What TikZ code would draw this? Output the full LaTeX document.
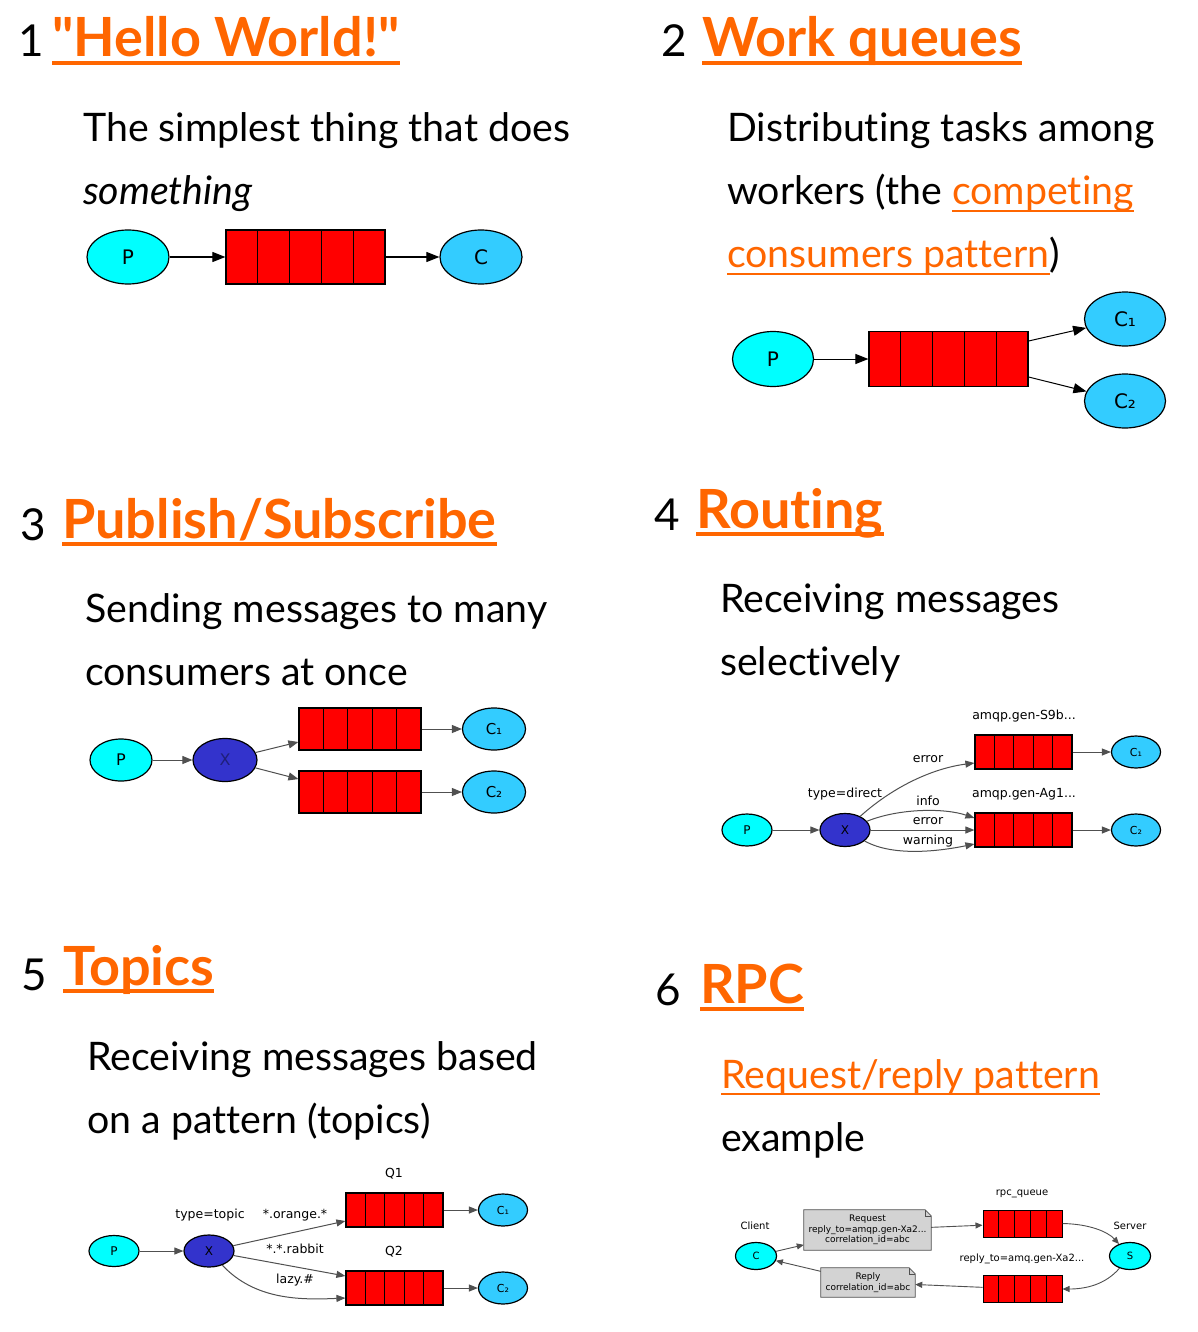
\documentclass[tikz,border=0pt]{standalone}
\usepackage{fontspec}
\setmainfont{Lato}[Ligatures={TeXOff,CommonOff}]
\newfontfamily\gv{DejaVu Sans}
\usetikzlibrary{shapes.geometric,arrows.meta,calc,backgrounds}

\definecolor{linkor}{RGB}{255,102,0}
\definecolor{pcyan}{RGB}{0,255,255}
\definecolor{cblue}{RGB}{51,204,255}
\definecolor{xblue}{RGB}{51,51,204}
\definecolor{qred}{RGB}{255,0,0}
\definecolor{edgegray}{RGB}{80,80,80}
\definecolor{notegray}{RGB}{211,211,211}

\tikzset{
  txt/.style={inner sep=0, anchor=base west, font=\fontsize{39.3}{42}\selectfont},
  linktxt/.style={txt, text=linkor},
  head/.style={inner sep=0, anchor=base west, text=linkor, font=\fontsize{54}{60}\selectfont\bfseries},
  num/.style={inner sep=0, anchor=base west, font=\fontsize{44}{50}\selectfont},
  headline/.style={draw=linkor, line width=4pt},
  linkline/.style={draw=linkor, line width=2.5pt},
  ell/.style={ellipse, draw, line width=1.2pt, inner sep=0},
  prod/.style={ell, fill=pcyan},
  cons/.style={ell, fill=cblue},
  exch/.style={ell, fill=xblue},
  queue/.style={draw, fill=qred, line width=1.2pt, inner sep=0,
    path picture={\foreach \k in {1,2,3,4}{
      \draw[line width=1.2pt]
        ($(path picture bounding box.north west)!\k/5!(path picture bounding box.north east)$) --
        ($(path picture bounding box.south west)!\k/5!(path picture bounding box.south east)$);}}},
  lbl/.style={inner sep=0, font=\gv\fontsize{12.5}{14}\selectfont},
  big/.style={-{Triangle[length=13pt,width=10pt]}, line width=1pt},
  mid/.style={-{Triangle[length=10pt,width=8pt]}, line width=1pt, draw=edgegray},
  small/.style={-{Triangle[length=9pt,width=7pt]}, line width=1pt, draw=edgegray},
  tiny/.style={-{Triangle[length=7pt,width=6pt]}, line width=0.9pt, draw=edgegray},
  notebox/.style={inner sep=2pt, align=center, font=\gv\fontsize{9}{10.5}\selectfont},
}

\begin{document}
\begin{tikzpicture}[x=1pt,y=-1pt]
\useasboundingbox (0,0) rectangle (1198,1332);
\begin{scope}[on background layer]
  \fill[white] (0,0) rectangle (1198,1332);
\end{scope}

% ---------- 1 "Hello World!" ----------
\node[num] (n1) at (18,57) {1};
\node[head] (h1) at (52,57) {"Hello World!"};
\draw[headline] ($(h1.base west)+(0,6)$) -- ($(h1.base east)+(0,6)$);
\node[txt] (t11) at (83,142) {The simplest thing that does};
\node[txt] (t12) at (83,205) {\itshape something};
\node[prod, minimum width=82, minimum height=54, font=\gv\fontsize{20}{20}\selectfont] (p1) at (128,257) {P};
\node[queue, minimum width=159, minimum height=54] (q1) at (305.5,257) {};
\node[cons, minimum width=82, minimum height=54, font=\gv\fontsize{20}{20}\selectfont] (c1) at (481,257) {C};
\draw[big] (p1) -- (q1);
\draw[big] (q1) -- (c1);

% ---------- 2 Work queues ----------
\node[num] (n2) at (661,57) {2};
\node[head] (h2) at (702,57) {Work queues};
\draw[headline] ($(h2.base west)+(0,6)$) -- ($(h2.base east)+(0,6)$);
\node[txt] (t21) at (727,142) {Distributing tasks among};
\node[txt] (t22) at (727,205) {workers (the};
\node[linktxt] (t22b) at ($(t22.base east)+(10,0)$) {competing};
\draw[linkline] ($(t22b.base west)+(0,6)$) -- ($(t22b.base east)+(0,6)$);
\node[linktxt] (t23) at (727,268) {consumers pattern};
\draw[linkline] ($(t23.base west)+(0,6)$) -- ($(t23.base east)+(0,6)$);
\node[txt] (t23b) at (t23.base east) {)};
\node[prod, minimum width=81, minimum height=55, font=\gv\fontsize{20}{20}\selectfont] (p2) at (773,359) {P};
\node[queue, minimum width=159, minimum height=55] (q2) at (948.5,359) {};
\node[cons, minimum width=81, minimum height=54, font=\gv\fontsize{20}{20}\selectfont] (c21) at (1125,319) {C₁};
\node[cons, minimum width=81, minimum height=54, font=\gv\fontsize{20}{20}\selectfont] (c22) at (1125,401) {C₂};
\draw[big] (p2) -- (q2);
\draw[big] ($(q2.east)+(0,-18)$) -- (c21);
\draw[big] ($(q2.east)+(0,18)$) -- (c22);

% ---------- 3 Publish/Subscribe ----------
\node[num] (n3) at (20,540) {3};
\node[head] (h3) at (62,538) {Publish/Subscribe};
\draw[headline] ($(h3.base west)+(0,6)$) -- ($(h3.base east)+(0,6)$);
\node[txt] (t31) at (85,622) {Sending messages to many};
\node[txt] (t32) at (85,685) {consumers at once};
\node[prod, minimum width=62, minimum height=42, font=\gv\fontsize{16}{16}\selectfont] (p3) at (121,760) {P};
\node[exch, minimum width=64, minimum height=43, font=\gv\fontsize{16}{16}\selectfont, text=xblue!60!black] (x3) at (225,760) {X};
\node[queue, minimum width=122, minimum height=42] (q31) at (360,729) {};
\node[queue, minimum width=122, minimum height=42] (q32) at (360,792) {};
\node[cons, minimum width=63, minimum height=42, font=\gv\fontsize{15}{15}\selectfont] (c31) at (494,729) {C₁};
\node[cons, minimum width=63, minimum height=42, font=\gv\fontsize{15}{15}\selectfont] (c32) at (494,792) {C₂};
\draw[mid] (p3) -- (x3);
\draw[mid] (x3) -- ($(q31.west)+(0,13)$);
\draw[mid] (x3) -- ($(q32.west)+(0,-13)$);
\draw[mid] (q31) -- (c31);
\draw[mid] (q32) -- (c32);

% ---------- 4 Routing ----------
\node[num] (n4) at (654,530) {4};
\node[head] (h4) at (696,528) {Routing};
\draw[headline] ($(h4.base west)+(0,6)$) -- ($(h4.base east)+(0,6)$);
\node[txt] (t41) at (720,612) {Receiving messages};
\node[txt] (t42) at (720,675) {selectively};
\node[prod, minimum width=50, minimum height=32, font=\gv\fontsize{12}{12}\selectfont] (p4) at (747,830) {P};
\node[exch, minimum width=50, minimum height=33, font=\gv\fontsize{12}{12}\selectfont] (x4) at (845,830) {X};
\node[queue, minimum width=97, minimum height=34] (q41) at (1023.5,752) {};
\node[queue, minimum width=97, minimum height=34] (q42) at (1023.5,830) {};
\node[cons, minimum width=49, minimum height=32, font=\gv\fontsize{11}{11}\selectfont] (c41) at (1136,752) {C₁};
\node[cons, minimum width=49, minimum height=32, font=\gv\fontsize{11}{11}\selectfont] (c42) at (1136,830) {C₂};
\node[lbl] (l41) at (1024,716) {amqp.gen-S9b...};
\node[lbl] (l42) at (1024,794) {amqp.gen-Ag1...};
\node[lbl] (l43) at (845,794) {type=direct};
\node[lbl] (l44) at (928,759) {error};
\node[lbl] (l45) at (928,801) {info};
\node[lbl] (l46) at (928,821) {error};
\node[lbl] (l47) at (928,841) {warning};
\draw[small] (p4) -- (x4);
\draw[small] (x4) .. controls (895,785) and (935,768) .. ($(q41.west)+(0,11)$);
\draw[small] (x4) .. controls (900,808) and (945,808) .. ($(q42.west)+(0,-12)$);
\draw[small] (x4) -- (q42);
\draw[small] (x4) .. controls (895,858) and (945,850) .. ($(q42.west)+(0,14)$);
\draw[small] (q41) -- (c41);
\draw[small] (q42) -- (c42);

% ---------- 5 Topics ----------
\node[num] (n5) at (21,990) {5};
\node[head] (h5) at (63,985) {Topics};
\draw[headline] ($(h5.base west)+(0,6)$) -- ($(h5.base east)+(0,6)$);
\node[txt] (t51) at (87,1070) {Receiving messages based};
\node[txt] (t52) at (87,1133) {on a pattern (topics)};
\node[prod, minimum width=50, minimum height=31, font=\gv\fontsize{12}{12}\selectfont] (p5) at (114,1251) {P};
\node[exch, minimum width=50, minimum height=32, font=\gv\fontsize{12}{12}\selectfont] (x5) at (209,1251) {X};
\node[queue, minimum width=97, minimum height=34] (q51) at (394.5,1210) {};
\node[queue, minimum width=97, minimum height=34] (q52) at (394.5,1288) {};
\node[cons, minimum width=49, minimum height=32, font=\gv\fontsize{11}{11}\selectfont] (c51) at (503,1210) {C₁};
\node[cons, minimum width=49, minimum height=32, font=\gv\fontsize{11}{11}\selectfont] (c52) at (503,1288) {C₂};
\node[lbl] (l51) at (394,1174) {Q1};
\node[lbl] (l52) at (394,1252) {Q2};
\node[lbl] (l53) at (210,1215) {type=topic};
\node[lbl] (l54) at (295,1215) {*.orange.*};
\node[lbl] (l55) at (295,1249) {*.*.rabbit};
\node[lbl] (l56) at (295,1280) {lazy.\#};
\draw[small] (p5) -- (x5);
\draw[small] (x5) -- ($(q51.west)+(0,11)$);
\draw[small] (x5) -- ($(q52.west)+(0,-12)$);
\draw[small] (x5) .. controls (255,1300) and (300,1300) .. ($(q52.west)+(0,10)$);
\draw[small] (q51) -- (c51);
\draw[small] (q52) -- (c52);

% ---------- 6 RPC ----------
\node[num] (n6) at (655,1005) {6};
\node[head] (h6) at (700,1003) {RPC};
\draw[headline] ($(h6.base west)+(0,6)$) -- ($(h6.base east)+(0,6)$);
\node[linktxt] (t61) at (721,1088) {Request/reply pattern};
\draw[linkline] ($(t61.base west)+(0,6)$) -- ($(t61.base east)+(0,6)$);
\node[txt] (t62) at (721,1151) {example};
\node[prod, minimum width=41, minimum height=27, font=\gv\fontsize{10}{10}\selectfont] (c6) at (756,1256) {C};
\node[prod, minimum width=41, minimum height=27, font=\gv\fontsize{10}{10}\selectfont] (s6) at (1130,1256) {S};
\node[queue, minimum width=79, minimum height=27, line width=1pt] (q61) at (1022.5,1223.5) {};
\node[queue, minimum width=79, minimum height=27, line width=1pt] (q62) at (1022.5,1289) {};
\node[notebox, minimum width=127, minimum height=40] (req) at (867.5,1230) {Request\\reply\_to=amqp.gen-Xa2...\\correlation\_id=abc};
\node[notebox, minimum width=94, minimum height=29] (rep) at (868,1282.5) {Reply\\correlation\_id=abc};
\begin{scope}[on background layer]
  \foreach \n in {req,rep}{
    \draw[fill=notegray, draw=edgegray, line width=0.8pt]
      (\n.north west) -- ($(\n.north east)+(-6,0)$) -- ($(\n.north east)+(0,6)$) -- (\n.south east) -- (\n.south west) -- cycle;
    \draw[draw=edgegray, line width=0.6pt]
      ($(\n.north east)+(-6,0)$) -- ($(\n.north east)+(-6,6)$) -- ($(\n.north east)+(0,6)$);
  }
\end{scope}
\node[lbl, font=\gv\fontsize{10}{11}\selectfont] (l61) at (755,1226) {Client};
\node[lbl, font=\gv\fontsize{10}{11}\selectfont] (l62) at (1130,1226) {Server};
\node[lbl, font=\gv\fontsize{10}{11}\selectfont] (l63) at (1022,1194) {rpc\_queue};
\node[lbl, font=\gv\fontsize{10}{11}\selectfont] (l64) at (1022,1259) {reply\_to=amq.gen-Xa2...};
\draw[tiny] (c6) -- (req);
\draw[tiny] (req) -- (q61);
\draw[tiny] (q61.east) .. controls (1090,1224) and (1108,1232) .. (s6);
\draw[tiny] (s6) .. controls (1105,1285) and (1085,1289) .. (q62.east);
\draw[tiny] (q62) -- (rep);
\draw[tiny] (rep) -- (c6);
\end{tikzpicture}
\end{document}
